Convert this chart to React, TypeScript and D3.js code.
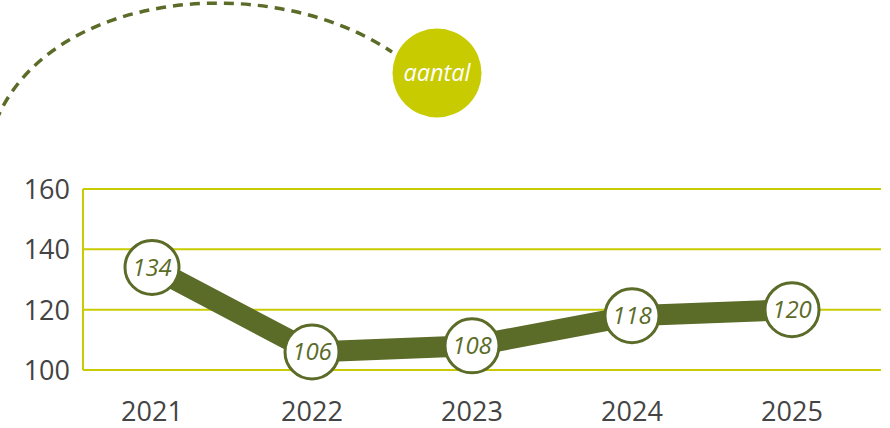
import React from "react";
import * as d3 from "d3";

const years = ["2021", "2022", "2023", "2024", "2025"];
const values = [134, 106, 108, 118, 120];
const yTicks = [100, 120, 140, 160];
const badgeLabel = "aantal";

const W = 890;
const H = 428;
const FONT = "'Open Sans', 'Noto Sans', sans-serif";
const OLIVE = "#5b6b28";
const LIME = "#c8cb00";

export default function App() {
  const x = d3.scaleBand<string>().domain(years).range([72, 872]).padding(0);
  const y = d3.scaleLinear().domain([100, 160]).range([370, 189]);
  const cx = (d: string) => (x(d) ?? 0) + x.bandwidth() / 2;

  const line = d3
    .line<number>()
    .x((_, i) => cx(years[i]))
    .y((v) => y(v));

  return (
    <svg
      width={W}
      height={H}
      style={{ position: "absolute", left: 0, top: 0, background: "#fff" }}
    >
      {/* decorative dashed arc */}
      <path
        d="M -4 121 C 50 -10 270 -30 392 52"
        fill="none"
        stroke={OLIVE}
        strokeWidth={3.5}
        strokeDasharray="10 7"
      />
      <circle cx={437} cy={73} r={44.5} fill={LIME} />
      <text
        x={437}
        y={81}
        textAnchor="middle"
        fill="#fff"
        fontFamily={FONT}
        fontStyle="italic"
        fontSize={23.5}
      >
        {badgeLabel}
      </text>

      {/* grid */}
      {yTicks.map((t) => (
        <g key={t}>
          <line x1={83} x2={881} y1={y(t)} y2={y(t)} stroke={LIME} strokeWidth={2} />
          <text
            x={70}
            y={y(t) + 10}
            textAnchor="end"
            fill="#444"
            fontFamily={FONT}
            fontSize={27}
          >
            {t}
          </text>
        </g>
      ))}
      <line x1={83} x2={83} y1={y(160)} y2={y(100)} stroke={LIME} strokeWidth={2} />

      {/* x labels */}
      {years.map((yr) => (
        <text
          key={yr}
          x={cx(yr)}
          y={421}
          textAnchor="middle"
          fill="#444"
          fontFamily={FONT}
          fontSize={27}
        >
          {yr}
        </text>
      ))}

      {/* line */}
      <path
        d={line(values) ?? ""}
        fill="none"
        stroke={OLIVE}
        strokeWidth={21}
        strokeLinejoin="round"
      />

      {/* markers */}
      {values.map((v, i) => (
        <g key={years[i]}>
          <circle
            cx={cx(years[i])}
            cy={y(v)}
            r={27}
            fill="#fff"
            stroke={OLIVE}
            strokeWidth={3}
          />
          <text
            x={cx(years[i])}
            y={y(v) + 8.5}
            textAnchor="middle"
            fill={OLIVE}
            fontFamily={FONT}
            fontStyle="italic"
            fontSize={24}
          >
            {v}
          </text>
        </g>
      ))}
    </svg>
  );
}
